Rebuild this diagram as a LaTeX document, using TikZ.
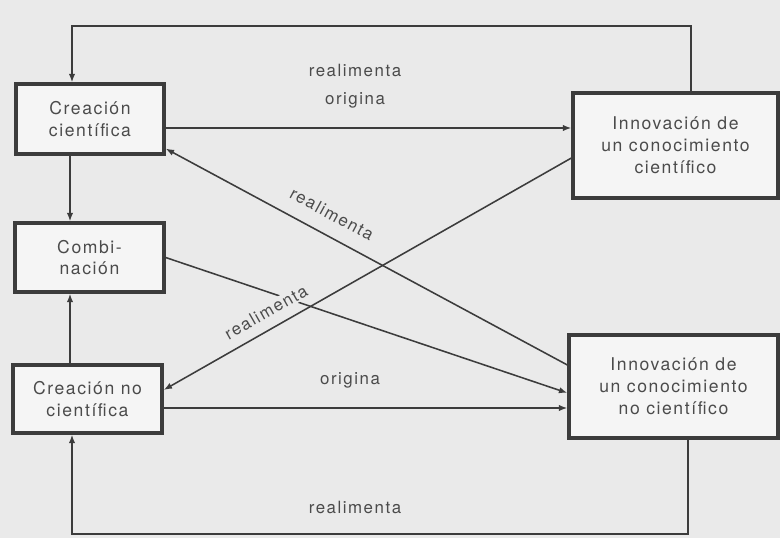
\documentclass[tikz,border=0pt]{standalone}
\usepackage{fontspec}
\newfontfamily\diagfont[LetterSpace=9]{TeX Gyre Heros}
\usetikzlibrary{arrows.meta}
\definecolor{paper}{RGB}{234,234,234}
\definecolor{boxfill}{RGB}{245,245,245}
\definecolor{ink}{RGB}{60,60,60}
\definecolor{txt}{RGB}{75,75,75}

\begin{document}
\begin{tikzpicture}[x=0.025cm,y=-0.025cm,
    box/.style={draw=ink,line width=2.3pt,fill=boxfill,align=center,text=txt,
        font=\diagfont\fontsize{12.5}{15.5}\selectfont,inner sep=0pt},
    link/.style={draw=ink,line width=1.1pt},
    arr/.style={link,-{Latex[length=6pt,width=4.5pt]}},
    lbl/.style={text=txt,font=\diagfont\fontsize{12}{14}\selectfont,inner sep=1pt}
]
    \fill[paper] (0,0) rectangle (780,538);
    \useasboundingbox (0,0) rectangle (780,538);

    \node [box,minimum width=3.7cm,minimum height=1.75cm] (cc) at (90,119)
        {Creación\\científica};
    \node [box,minimum width=3.725cm,minimum height=1.725cm] (comb) at (89.5,257.5)
        {Combi-\\nación};
    \node [box,minimum width=3.725cm,minimum height=1.7cm] (cnc) at (87.5,399)
        {Creación no\\científica};
    \node [box,minimum width=5.125cm,minimum height=2.625cm] (ic) at (675.5,145.5)
        {Innovación de\\un conocimiento\\científico};
    \node [box,minimum width=5.225cm,minimum height=2.575cm] (inc) at (673.5,386.5)
        {Innovación de\\un conocimiento\\no científico};

    \coordinate (tr) at (691,26);
    \coordinate (tl) at (72,26);
    \coordinate (br) at (688,534);
    \coordinate (bl) at (72,534);
    \coordinate (vx) at (70,0);
    \draw [arr] (tr |- ic.north) -- (tr) -- (tl) -- (tl |- cc.north);
    \draw [arr] (br |- inc.south) -- (br) -- (bl) -- (bl |- cnc.south);
    \draw [arr] (vx |- cc.south) -- (vx |- comb.north);
    \draw [arr] (vx |- cnc.north) -- (vx |- comb.south);

    \coordinate (o1) at ([yshift=-6.4pt]cc.east);
    \coordinate (o2) at ([yshift=-6.4pt]cnc.east);
    \draw [arr] (o1) -- (o1 -| ic.west);
    \draw [arr] (o2) -- (o2 -| inc.west);

    \draw [arr] ([yshift=15.3pt]inc.west) -- ([yshift=5pt]cc.south east);
    \draw [arr] (comb.east) -- ([yshift=-4.6pt]inc.west);
    \node [lbl,rotate=29.6,fill=paper] (rup) at (266,312) {realimenta};
    \draw [arr] ([yshift=-8.9pt]ic.west) -- ([yshift=6.4pt]cnc.east);

    \node [lbl] (rtop) at (355,70) {realimenta};
    \node [lbl] (otop) at (355,100) {origina};
    \node [lbl] (obot) at (350,380) {origina};
    \node [lbl] (rbot) at (355,507) {realimenta};
    \node [lbl,rotate=-28.5] (rdown) at (332,214) {realimenta};
\end{tikzpicture}
\end{document}
